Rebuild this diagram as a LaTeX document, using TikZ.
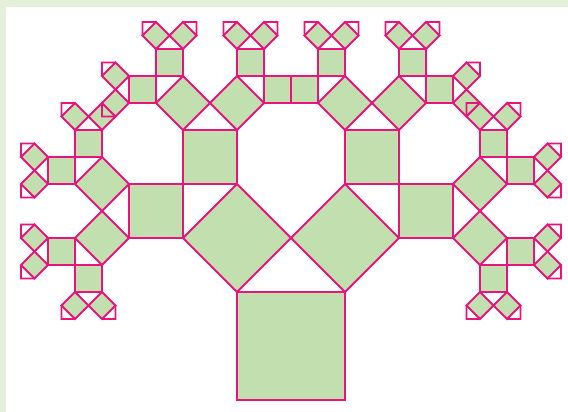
\documentclass[tikz,border=0pt]{standalone}
\usetikzlibrary{calc}
\definecolor{leaf}{RGB}{194,223,176}
\definecolor{edge}{RGB}{232,20,125}
\definecolor{frame}{RGB}{228,240,218}
\tikzset{
  sq/.style={fill=leaf,draw=edge,line width=1.8pt,line join=miter},
  ln/.style={draw=edge,line width=1.8pt,line join=miter},
}
\def\pytskipA{LRRR}
\def\pytskipB{RLLL}
\newif\ifpytleaf
\newcommand\pyt[4]{%
  \coordinate (a#3) at (#1);
  \coordinate (b#3) at (#2);
  \coordinate (d#3) at ($(a#3)!1!90:(b#3)$);
  \coordinate (c#3) at ($(b#3)!1!-90:(a#3)$);
  \coordinate (e#3) at ($(d#3)!0.70710678!45:(c#3)$);
  \filldraw[sq] (a#3) -- (b#3) -- (c#3) -- (d#3) -- cycle;
  \def\pytcur{#4}%
  \pytleaffalse
  \ifx\pytcur\pytskipA\pytleaftrue\fi
  \ifx\pytcur\pytskipB\pytleaftrue\fi
  \ifpytleaf\else
    \ifnum#3<5
      \edef\pytnext{\noexpand\pyt{d#3}{e#3}{\the\numexpr#3+1\relax}{#4L}}\pytnext
      \edef\pytnext{\noexpand\pyt{e#3}{c#3}{\the\numexpr#3+1\relax}{#4R}}\pytnext
    \else
      \draw[ln] (d#3) -- (e#3) -- (c#3);
    \fi
  \fi
}
\begin{document}
\begin{tikzpicture}[x=1pt,y=-1pt]
  \fill[frame] (0,0) rectangle (568,412);
  \fill[white] (6,7.5) rectangle (568,412);
  \useasboundingbox (0,0) rectangle (568,412);
  \coordinate (base1) at (237,400);
  \coordinate (base2) at (345,400);
  \pyt{base1}{base2}{0}{}
\end{tikzpicture}
\end{document}
